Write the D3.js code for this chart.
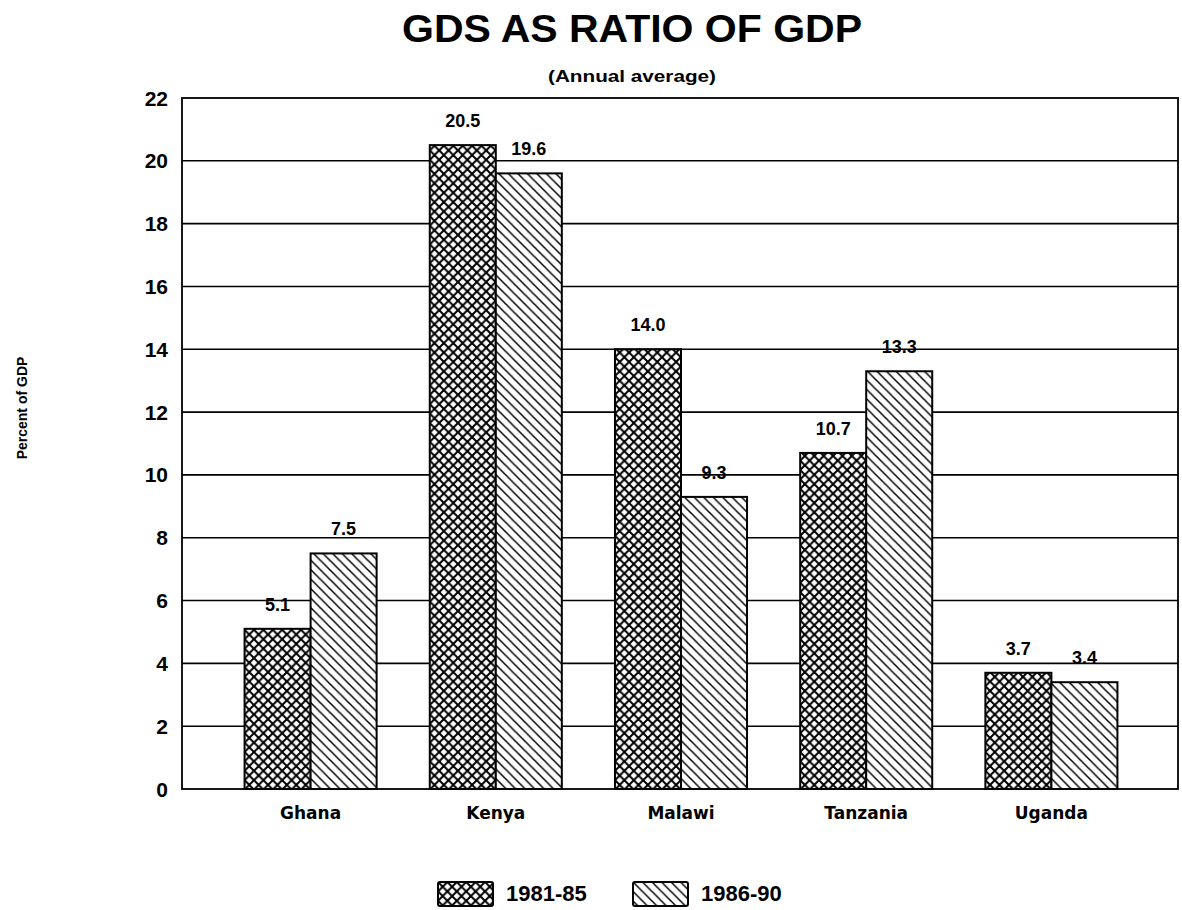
<!DOCTYPE html>
<html>
<head>
<meta charset="utf-8">
<script src="https://cdn.jsdelivr.net/npm/d3@7"></script>
<style>
  html, body { margin: 0; padding: 0; background: #fff; }
  svg { display: block; }
</style>
</head>
<body>
<script>
// ---- data ----
const categories = ["Ghana", "Kenya", "Malawi", "Tanzania", "Uganda"];
const seriesNames = ["1981-85", "1986-90"];
const values1981_85 = [5.1, 20.5, 14.0, 10.7, 3.7];
const values1986_90 = [7.5, 19.6, 9.3, 13.3, 3.4];
const valueLabels1981_85 = ["5.1", "20.5", "14.0", "10.7", "3.7"];
const valueLabels1986_90 = ["7.5", "19.6", "9.3", "13.3", "3.4"];
const yTicks = [0, 2, 4, 6, 8, 10, 12, 14, 16, 18, 20, 22];
const titleText = "GDS AS RATIO OF GDP";
const subtitleText = "(Annual average)";
const yAxisTitle = "Percent of GDP";

const W = 1182, H = 910;
const plotLeft = 182, plotRight = 1178, plotTop = 98, plotBottom = 789;
const FONT = "'Liberation Sans', Arial, Helvetica, sans-serif";
const WIDE = "'DejaVu Sans', Verdana, sans-serif";

const svg = d3.select("body").append("svg").attr("width", W).attr("height", H);

// patterns
const defs = svg.append("defs");
const pc = defs.append("pattern").attr("id", "cross").attr("patternUnits", "userSpaceOnUse")
  .attr("width", 9.4).attr("height", 9.4);
pc.append("rect").attr("width", 9.4).attr("height", 9.4).attr("fill", "#fff");
pc.append("path").attr("d", "M-2,-2L11.4,11.4M11.4,-2L-2,11.4").attr("stroke", "#000").attr("stroke-width", 2);

const pd = defs.append("pattern").attr("id", "diag").attr("patternUnits", "userSpaceOnUse")
  .attr("width", 9.5).attr("height", 9.5);
pd.append("rect").attr("width", 9.5).attr("height", 9.5).attr("fill", "#fff");
pd.append("path").attr("d", "M-2,-2L11.5,11.5M-2,7.5L2,11.5M7.5,-2L11.5,2").attr("stroke", "#000").attr("stroke-width", 1.5);

const fills = ["url(#cross)", "url(#diag)"];

// scales
const y = d3.scaleLinear().domain([0, 22]).range([plotBottom, plotTop]);
const x0 = d3.scaleBand().domain(categories).range([218, 1144]).paddingInner(0.287).paddingOuter(0.1435);
const x1 = d3.scaleBand().domain(seriesNames).range([0, x0.bandwidth()]);

// gridlines
svg.append("g").selectAll("line").data(yTicks.filter(t => t > 0 && t < 22)).join("line")
  .attr("x1", plotLeft).attr("x2", plotRight)
  .attr("y1", d => y(d)).attr("y2", d => y(d))
  .attr("stroke", "#000").attr("stroke-width", 1.6);

// frame
svg.append("rect").attr("x", plotLeft).attr("y", y(22)).attr("width", plotRight - plotLeft).attr("height", y(0) - y(22))
  .attr("fill", "none").attr("stroke", "#000").attr("stroke-width", 1.8);

// y tick labels
svg.append("g").selectAll("text").data(yTicks).join("text")
  .attr("x", 168).attr("y", d => y(d)).attr("dy", "0.36em")
  .attr("text-anchor", "end")
  .style("font-family", FONT).style("font-weight", "bold").style("font-size", "21px")
  .text(d => d);

// bars
const rows = categories.map((c, i) => ({
  cat: c,
  vals: [
    { s: seriesNames[0], v: values1981_85[i], lab: valueLabels1981_85[i], k: 0 },
    { s: seriesNames[1], v: values1986_90[i], lab: valueLabels1986_90[i], k: 1 }
  ]
}));

const groups = svg.append("g").selectAll("g").data(rows).join("g")
  .attr("transform", d => `translate(${x0(d.cat)},0)`);

groups.selectAll("rect").data(d => d.vals).join("rect")
  .attr("x", d => x1(d.s)).attr("y", d => y(d.v))
  .attr("width", x1.bandwidth()).attr("height", d => y(0) - y(d.v))
  .attr("fill", d => fills[d.k]).attr("stroke", "#000").attr("stroke-width", 2);

groups.selectAll("text").data(d => d.vals).join("text")
  .attr("x", d => x1(d.s) + x1.bandwidth() / 2).attr("y", d => y(d.v) - 18)
  .attr("text-anchor", "middle")
  .style("font-family", FONT).style("font-weight", "bold").style("font-size", "18px")
  .text(d => d.lab);

// x category labels
svg.append("g").selectAll("text").data(categories).join("text")
  .attr("x", d => x0(d) + x0.bandwidth() / 2).attr("y", 819)
  .attr("text-anchor", "middle")
  .style("font-family", WIDE).style("font-weight", "bold").style("font-size", "17px")
  .text(d => d);

// title
svg.append("text").attr("x", 632).attr("y", 42).attr("text-anchor", "middle")
  .attr("textLength", 460).attr("lengthAdjust", "spacingAndGlyphs")
  .style("font-family", FONT).style("font-weight", "bold").style("font-size", "38px")
  .text(titleText);

svg.append("text").attr("x", 632).attr("y", 82).attr("text-anchor", "middle")
  .attr("textLength", 168).attr("lengthAdjust", "spacingAndGlyphs")
  .style("font-family", FONT).style("font-weight", "bold").style("font-size", "16px")
  .text(subtitleText);

// y axis title
svg.append("text").attr("transform", "translate(27,408) rotate(-90)")
  .attr("text-anchor", "middle")
  .style("font-family", FONT).style("font-weight", "bold").style("font-size", "14px")
  .text(yAxisTitle);

// legend
const legendX = [438, 633];
const lg = svg.append("g").selectAll("g").data(seriesNames).join("g")
  .attr("transform", (d, i) => `translate(${legendX[i]},882)`);
lg.append("rect").attr("width", 55).attr("height", 24).attr("rx", 2)
  .attr("fill", (d, i) => fills[i]).attr("stroke", "#000").attr("stroke-width", 2);
lg.append("text").attr("x", 68).attr("y", 19)
  .style("font-family", FONT).style("font-weight", "bold").style("font-size", "22px")
  .text(d => d);
</script>
</body>
</html>
